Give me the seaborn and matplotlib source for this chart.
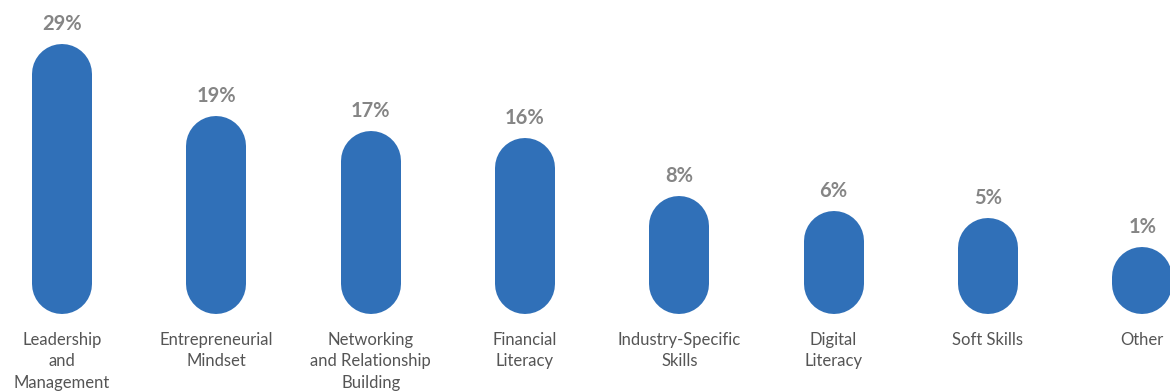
import matplotlib
matplotlib.use("Agg")
import matplotlib.pyplot as plt
import seaborn as sns
import pandas as pd

categories = [
    "Leadership\nand\nManagement",
    "Entrepreneurial\nMindset",
    "Networking\nand Relationship\nBuilding",
    "Financial\nLiteracy",
    "Industry-Specific\nSkills",
    "Digital\nLiteracy",
    "Soft Skills",
    "Other",
]
shares = [29, 19, 17, 16, 8, 6, 5, 1]

bar_color = "#3070b8"
value_color = "#858585"
label_color = "#555555"

sns.set_theme(style="white")
plt.rcParams["font.family"] = ["Lato", "DejaVu Sans"]

DPI = 100
fig = plt.figure(figsize=(11.7, 3.91), dpi=DPI)
ax = fig.add_axes([0, 0, 1, 1])

df = pd.DataFrame({"category": categories, "share": shares})
sns.barplot(data=df, x="category", y="share", color=bar_color, width=0.4, ax=ax)

# Swap each rectangle for a pill: a thick line with round caps from 0 to the value
bar_px = 60
lw_pt = bar_px * 72 / DPI
for patch, v in zip(list(ax.patches), shares):
    xc = patch.get_x() + patch.get_width() / 2
    patch.remove()
    ax.plot([xc, xc], [0, v], color=bar_color, lw=lw_pt,
            solid_capstyle="round", clip_on=False)
    ax.annotate(f"{v}%", xy=(xc, v), xytext=(0, 36), textcoords="offset points",
                ha="center", va="center", fontsize=14.5, fontweight="bold",
                color=value_color)

for i, cat in enumerate(categories):
    ax.text(i, -6.6, cat, ha="center", va="top", fontsize=12,
            color=label_color, linespacing=1.42)

ax.set_xlim(-0.402, 7.18)
ax.set_ylim(-14.78, 39.23)
ax.set_axis_off()

fig.savefig("out.png", dpi=DPI)
